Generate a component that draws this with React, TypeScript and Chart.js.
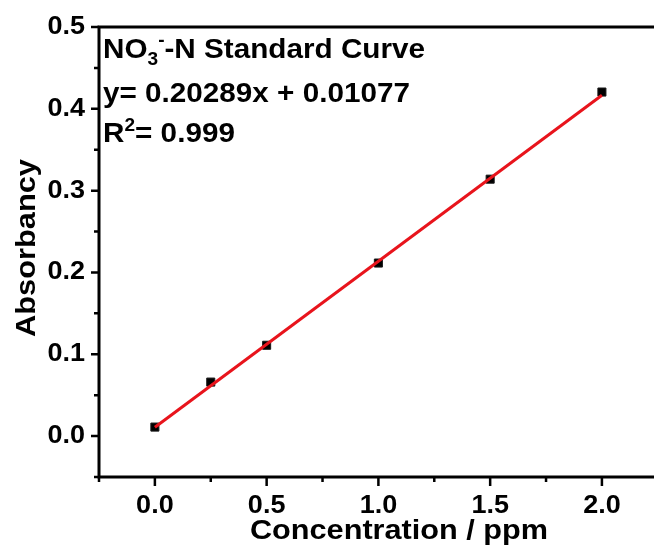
import React, { useEffect, useRef } from 'react';
import { Chart, registerables } from 'chart.js';

Chart.register(...registerables);

// ---- data ----
const concentrations = [0, 0.25, 0.5, 1.0, 1.5, 2.0];
const absorbance = [0.011, 0.066, 0.111, 0.2115, 0.314, 0.4205];
const fitX = [0, 2.0];
const fitY = [0.0108, 0.4166];

const xMajorTicks = [0, 0.5, 1.0, 1.5, 2.0];
const xMinorTicks = [-0.25, 0.25, 0.75, 1.25, 1.75];
const yMajorTicks = [0, 0.1, 0.2, 0.3, 0.4, 0.5];
const yMinorTicks = [-0.05, 0.05, 0.15, 0.25, 0.35, 0.45];

const xTitle = 'Concentration / ppm';
const yTitle = 'Absorbancy';
const eqLine = 'y= 0.20289x + 0.01077';
const r2Value = '= 0.999';

const FONT = '"Liberation Sans", Arial, sans-serif';

function stretchedText(
  ctx: CanvasRenderingContext2D,
  text: string,
  x: number,
  y: number,
  sx: number
) {
  ctx.save();
  ctx.translate(x, y);
  ctx.scale(sx, 1);
  ctx.fillText(text, 0, 0);
  ctx.restore();
}

const axesPlugin = {
  id: 'originAxes',
  afterDraw(chart: any) {
    const ctx = chart.ctx as CanvasRenderingContext2D;
    const xs = chart.scales.x;
    const ys = chart.scales.y;
    const ca = chart.chartArea;
    ctx.save();
    ctx.strokeStyle = '#000';
    ctx.fillStyle = '#000';
    ctx.lineWidth = 3;
    ctx.lineCap = 'butt';
    // spines
    ctx.beginPath();
    ctx.moveTo(ca.left, ca.top);
    ctx.lineTo(ca.left, ca.bottom + 1.5);
    ctx.moveTo(ca.left - 1.5, ca.bottom);
    ctx.lineTo(chart.width, ca.bottom);
    ctx.moveTo(ca.left - 1.5, ca.top);
    ctx.lineTo(chart.width, ca.top);
    ctx.stroke();

    ctx.lineWidth = 2.5;
    ctx.beginPath();
    yMajorTicks.forEach((v) => {
      const y = ys.getPixelForValue(v);
      ctx.moveTo(ca.left - 8, y);
      ctx.lineTo(ca.left, y);
    });
    yMinorTicks.forEach((v) => {
      const y = ys.getPixelForValue(v);
      ctx.moveTo(ca.left - 5, y);
      ctx.lineTo(ca.left, y);
    });
    xMajorTicks.forEach((v) => {
      const x = xs.getPixelForValue(v);
      ctx.moveTo(x, ca.bottom);
      ctx.lineTo(x, ca.bottom + 9);
    });
    xMinorTicks.forEach((v) => {
      const x = xs.getPixelForValue(v);
      ctx.moveTo(x, ca.bottom);
      ctx.lineTo(x, ca.bottom + 5);
    });
    ctx.stroke();

    // tick labels
    ctx.font = `bold 25px ${FONT}`;
    ctx.textAlign = 'right';
    ctx.textBaseline = 'alphabetic';
    yMajorTicks.forEach((v) => {
      const y = ys.getPixelForValue(v);
      stretchedText(ctx, v.toFixed(1), ca.left - 14, y + 7, 1.08);
    });
    ctx.textAlign = 'center';
    xMajorTicks.forEach((v) => {
      const x = xs.getPixelForValue(v);
      stretchedText(ctx, v.toFixed(1), x, ca.bottom + 36, 1.08);
    });

    // axis titles
    ctx.font = `bold 28px ${FONT}`;
    ctx.textAlign = 'center';
    stretchedText(ctx, xTitle, 399, ca.bottom + 62, 1.095);
    ctx.save();
    ctx.translate(35, 248);
    ctx.rotate(-Math.PI / 2);
    ctx.scale(1.1, 1);
    ctx.fillText(yTitle, 0, 0);
    ctx.restore();

    // annotation
    const big = `bold 28px ${FONT}`;
    const small = `bold 18px ${FONT}`;
    ctx.textAlign = 'left';
    ctx.save();
    ctx.translate(ca.left + 4, 0);
    ctx.scale(1.06, 1);
    let x = 0;
    let base = 58;
    ctx.font = big;
    ctx.fillText('NO', x, base);
    x += ctx.measureText('NO').width;
    ctx.font = small;
    ctx.fillText('3', x, base + 7);
    const w3 = ctx.measureText('3').width;
    ctx.fillText('-', x + w3, base - 12);
    x += w3 + ctx.measureText('-').width;
    ctx.font = big;
    ctx.fillText('-N Standard Curve', x, base);

    base = 102;
    ctx.fillText(eqLine, 0, base);

    base = 142;
    x = 0;
    ctx.fillText('R', x, base);
    x += ctx.measureText('R').width;
    ctx.font = small;
    ctx.fillText('2', x, base - 11);
    x += ctx.measureText('2').width;
    ctx.font = big;
    ctx.fillText(r2Value, x, base);
    ctx.restore();

    ctx.restore();
  },
};

export default function App() {
  const ref = useRef<HTMLCanvasElement | null>(null);
  useEffect(() => {
    if (!ref.current) return;
    const chart = new Chart(ref.current, {
      type: 'scatter',
      data: {
        datasets: [
          {
            type: 'line',
            label: 'Fit',
            data: fitX.map((v, i) => ({ x: v, y: fitY[i] })),
            borderColor: '#e8141c',
            borderWidth: 3,
            pointRadius: 0,
            fill: false,
            order: 0,
          } as any,
          {
            type: 'scatter',
            label: 'Data',
            data: concentrations.map((v, i) => ({ x: v, y: absorbance[i] })),
            pointStyle: 'rect',
            pointRadius: 5.7,
            backgroundColor: '#000',
            borderColor: '#1a1a1a',
            borderWidth: 1,
            order: 1,
          },
        ],
      },
      options: {
        responsive: false,
        animation: false,
        layout: { autoPadding: false, padding: { left: 99, top: 27, right: 0, bottom: 77 } },
        plugins: { legend: { display: false }, tooltip: { enabled: false } },
        scales: {
          x: { type: 'linear', min: -0.25, max: 2.233, display: false },
          y: { type: 'linear', min: -0.05, max: 0.5, display: false },
        },
      },
      plugins: [axesPlugin],
    });
    return () => chart.destroy();
  }, []);
  return (
    <div style={{ position: 'fixed', left: 0, top: 0, width: 654, height: 554, background: '#fff' }}>
      <canvas ref={ref} width={654} height={554} style={{ display: 'block' }} />
    </div>
  );
}
